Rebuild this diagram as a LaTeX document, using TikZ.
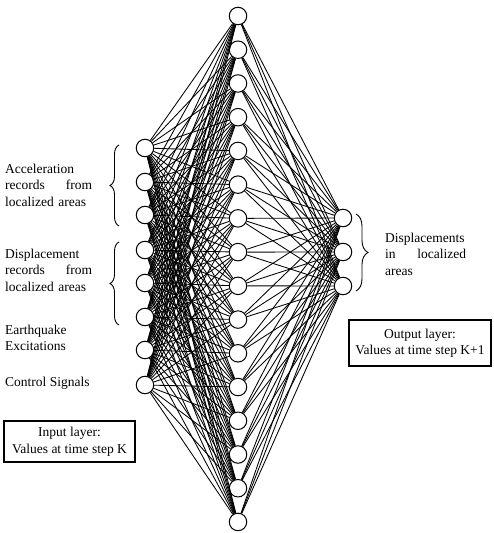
\documentclass[tikz,border=0pt]{standalone}
\usepackage{fontspec}
\setmainfont{Liberation Serif}
\usetikzlibrary{decorations.pathreplacing}
\begin{document}
\begin{tikzpicture}[x=1pt,y=-1pt,
  neuron/.style={circle,draw,line width=1pt,minimum size=17.5pt,inner sep=0pt,fill=white},
  link/.style={line width=0.85pt},
  lbl/.style={font=\fontsize{13.5}{16.5}\selectfont,align=left,anchor=west,inner sep=0pt},
  layerbox/.style={draw,line width=1.2pt,font=\fontsize{13.5}{16.5}\selectfont,align=center,inner sep=0pt},
  bracestyle/.style={decorate,decoration={brace,amplitude=9pt},line width=0.9pt}]
\useasboundingbox (0,0) rectangle (494,533);
% input layer
\foreach \i/\y in {1/148,2/182,3/215,4/250,5/283,6/317,7/350,8/385}
  \node[neuron] (i\i) at (145,\y) {};
% hidden layer
\foreach \j in {1,...,16}
  \node[neuron] (h\j) at (238,{16+33.73*(\j-1)}) {};
% output layer
\foreach \k/\y in {1/218,2/252,3/286}
  \node[neuron] (o\k) at (343,\y) {};
% connections
\foreach \i in {1,...,8}
  \foreach \j in {1,...,16}
    \draw[link] (i\i) -- (h\j);
\foreach \j in {1,...,16}
  \foreach \k in {1,...,3}
    \draw[link] (h\j) -- (o\k);
% braces
\coordinate (b1a) at (119,226);
\coordinate (b1b) at (119,145);
\coordinate (b2a) at (119,325);
\coordinate (b2b) at (119,242);
\coordinate (b3a) at (356,214);
\coordinate (b3b) at (356,291);
\draw[bracestyle] (b1a) -- (b1b);
\draw[bracestyle] (b2a) -- (b2b);
\draw[bracestyle,decoration={amplitude=12pt}] (b3a) -- (b3b);
% labels
\node[lbl,text width=87pt] (tacc) at (5,185) {Acceleration\\records\hfill from\\localized areas};
\node[lbl,text width=87pt] (tdis) at (5,270) {Displacement\\records\hfill from\\localized areas};
\node[lbl] (teq) at (5,338) {Earthquake\\Excitations};
\node[lbl] (tcs) at (5,383) {Control Signals};
\node[lbl,text width=81pt] (tout) at (385,254) {Displacements\\in\hfill localized\\areas};
% boxes
\node[layerbox,minimum width=131pt,minimum height=41pt] (inbox) at (69.5,441.5) {Input layer:\\Values at time step K};
\node[layerbox,minimum width=142pt,minimum height=46pt] (outbox) at (420,343) {Output layer:\\Values at time step K+1};
\end{tikzpicture}
\end{document}
